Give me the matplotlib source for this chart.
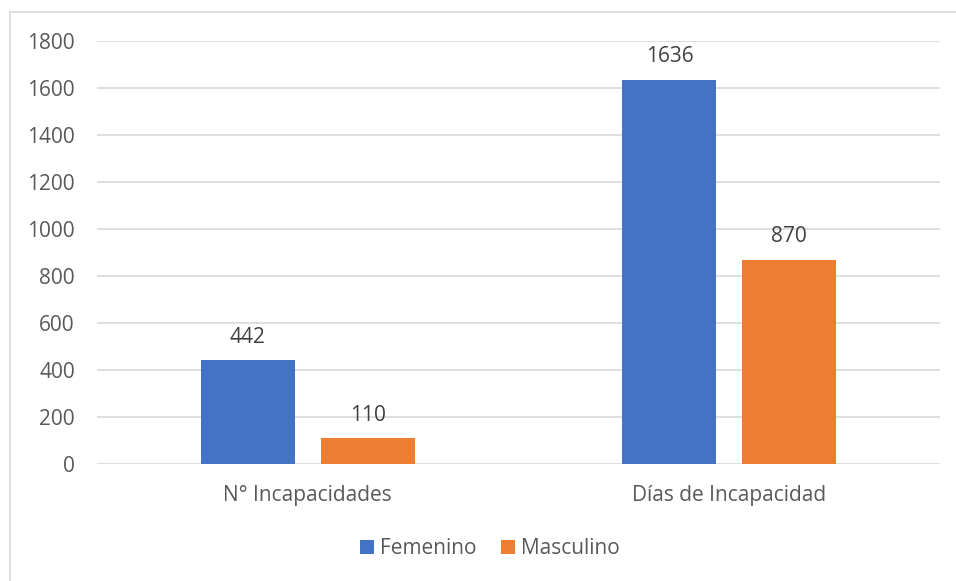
import numpy as np
import matplotlib.pyplot as plt
from matplotlib.lines import Line2D

categories = ["N° Incapacidades", "Días de Incapacidad"]
femenino = [442, 1636]
masculino = [110, 870]
series_names = ["Femenino", "Masculino"]
colors = ["#4472C4", "#ED7D31"]

plt.rcParams["font.family"] = ["Open Sans", "DejaVu Sans"]

fig = plt.figure(figsize=(9.56, 5.81), dpi=100)
ax = fig.add_axes([97 / 956, 1 - 464 / 581, (940 - 97) / 956, (464 - 41) / 581])

x = np.arange(len(categories))
width = 0.223
offset = 0.142

for vals, name, col, sign in zip([femenino, masculino], series_names, colors, [-1, 1]):
    bars = ax.bar(x + sign * offset, vals, width, color=col, label=name, zorder=3)
    for b, v in zip(bars, vals):
        ax.annotate(str(v), (b.get_x() + b.get_width() / 2, v), xytext=(0, 9),
                    textcoords="offset points", ha="center", va="bottom",
                    fontsize=15, color="#404040")

ax.set_xlim(-0.5, 1.5)
ax.set_ylim(0, 1800)
ax.set_yticks(range(0, 1801, 200))
ax.set_xticks(x)
ax.set_xticklabels(categories)
ax.tick_params(axis="both", length=0, labelsize=15, colors="#595959")
ax.tick_params(axis="y", pad=16)
ax.tick_params(axis="x", pad=15)
ax.grid(axis="y", color="#d9d9d9", linewidth=1.2, zorder=0)
for s in ax.spines.values():
    s.set_visible(False)

ax.legend(loc="center", bbox_to_anchor=(490 / 956, 1 - 549 / 581),
          bbox_transform=fig.transFigure, ncol=2, frameon=False,
          fontsize=15, labelcolor="#595959", handlelength=0.65,
          handleheight=0.65, handletextpad=0.3, columnspacing=1.2)

# chart border (left and top edges)
fig.add_artist(Line2D([9.5 / 956, 9.5 / 956], [0, 1 - 12 / 581], color="#d9d9d9", lw=1.2))
fig.add_artist(Line2D([9.5 / 956, 1], [1 - 12 / 581, 1 - 12 / 581], color="#d9d9d9", lw=1.2))

fig.savefig("out.png", dpi=100)
